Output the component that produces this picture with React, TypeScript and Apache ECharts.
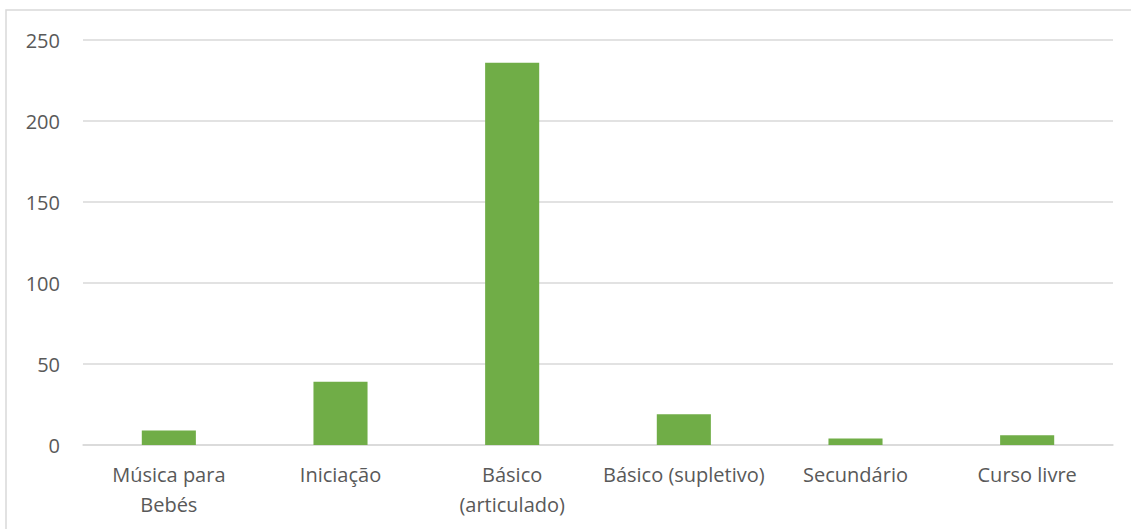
import React, { useEffect, useRef } from "react";
import * as echarts from "echarts";

const categories = [
  "Música para\nBebés",
  "Iniciação",
  "Básico\n(articulado)",
  "Básico (supletivo)",
  "Secundário",
  "Curso livre",
];
const values = [9, 39, 236, 19, 4, 6];
const yTicks = { min: 0, max: 250, interval: 50 };

export default function App() {
  const ref = useRef<HTMLDivElement>(null);
  useEffect(() => {
    const chart = echarts.init(ref.current!, null, { renderer: "svg" });
    const font = "'Open Sans', sans-serif";
    chart.setOption({
      animation: false,
      backgroundColor: "#ffffff",
      graphic: [
        {
          type: "rect",
          shape: { x: 6, y: 10, width: 1140, height: 540 },
          style: { fill: "none", stroke: "#d9d9d9", lineWidth: 1.5 },
          silent: true,
        },
      ],
      grid: { left: 83, right: 18, top: 40, bottom: 84, containLabel: false },
      xAxis: {
        type: "category",
        data: categories,
        axisLine: { show: true, lineStyle: { color: "#d9d9d9", width: 1.5 } },
        axisTick: { show: false },
        axisLabel: {
          interval: 0,
          color: "#595959",
          fontFamily: font,
          fontSize: 20,
          lineHeight: 30,
          margin: 14,
        },
      },
      yAxis: {
        type: "value",
        min: yTicks.min,
        max: yTicks.max,
        interval: yTicks.interval,
        axisLine: { show: false },
        axisTick: { show: false },
        splitLine: { lineStyle: { color: "#d9d9d9", width: 1.5 } },
        axisLabel: {
          color: "#595959",
          fontFamily: font,
          fontSize: 20,
          margin: 23,
        },
      },
      series: [
        {
          type: "bar",
          data: values,
          barWidth: "31.5%",
          itemStyle: { color: "#70ad47" },
        },
      ],
    });
    return () => chart.dispose();
  }, []);
  return (
    <div
      ref={ref}
      style={{ position: "fixed", left: 0, top: 0, width: 1131, height: 529 }}
    />
  );
}
